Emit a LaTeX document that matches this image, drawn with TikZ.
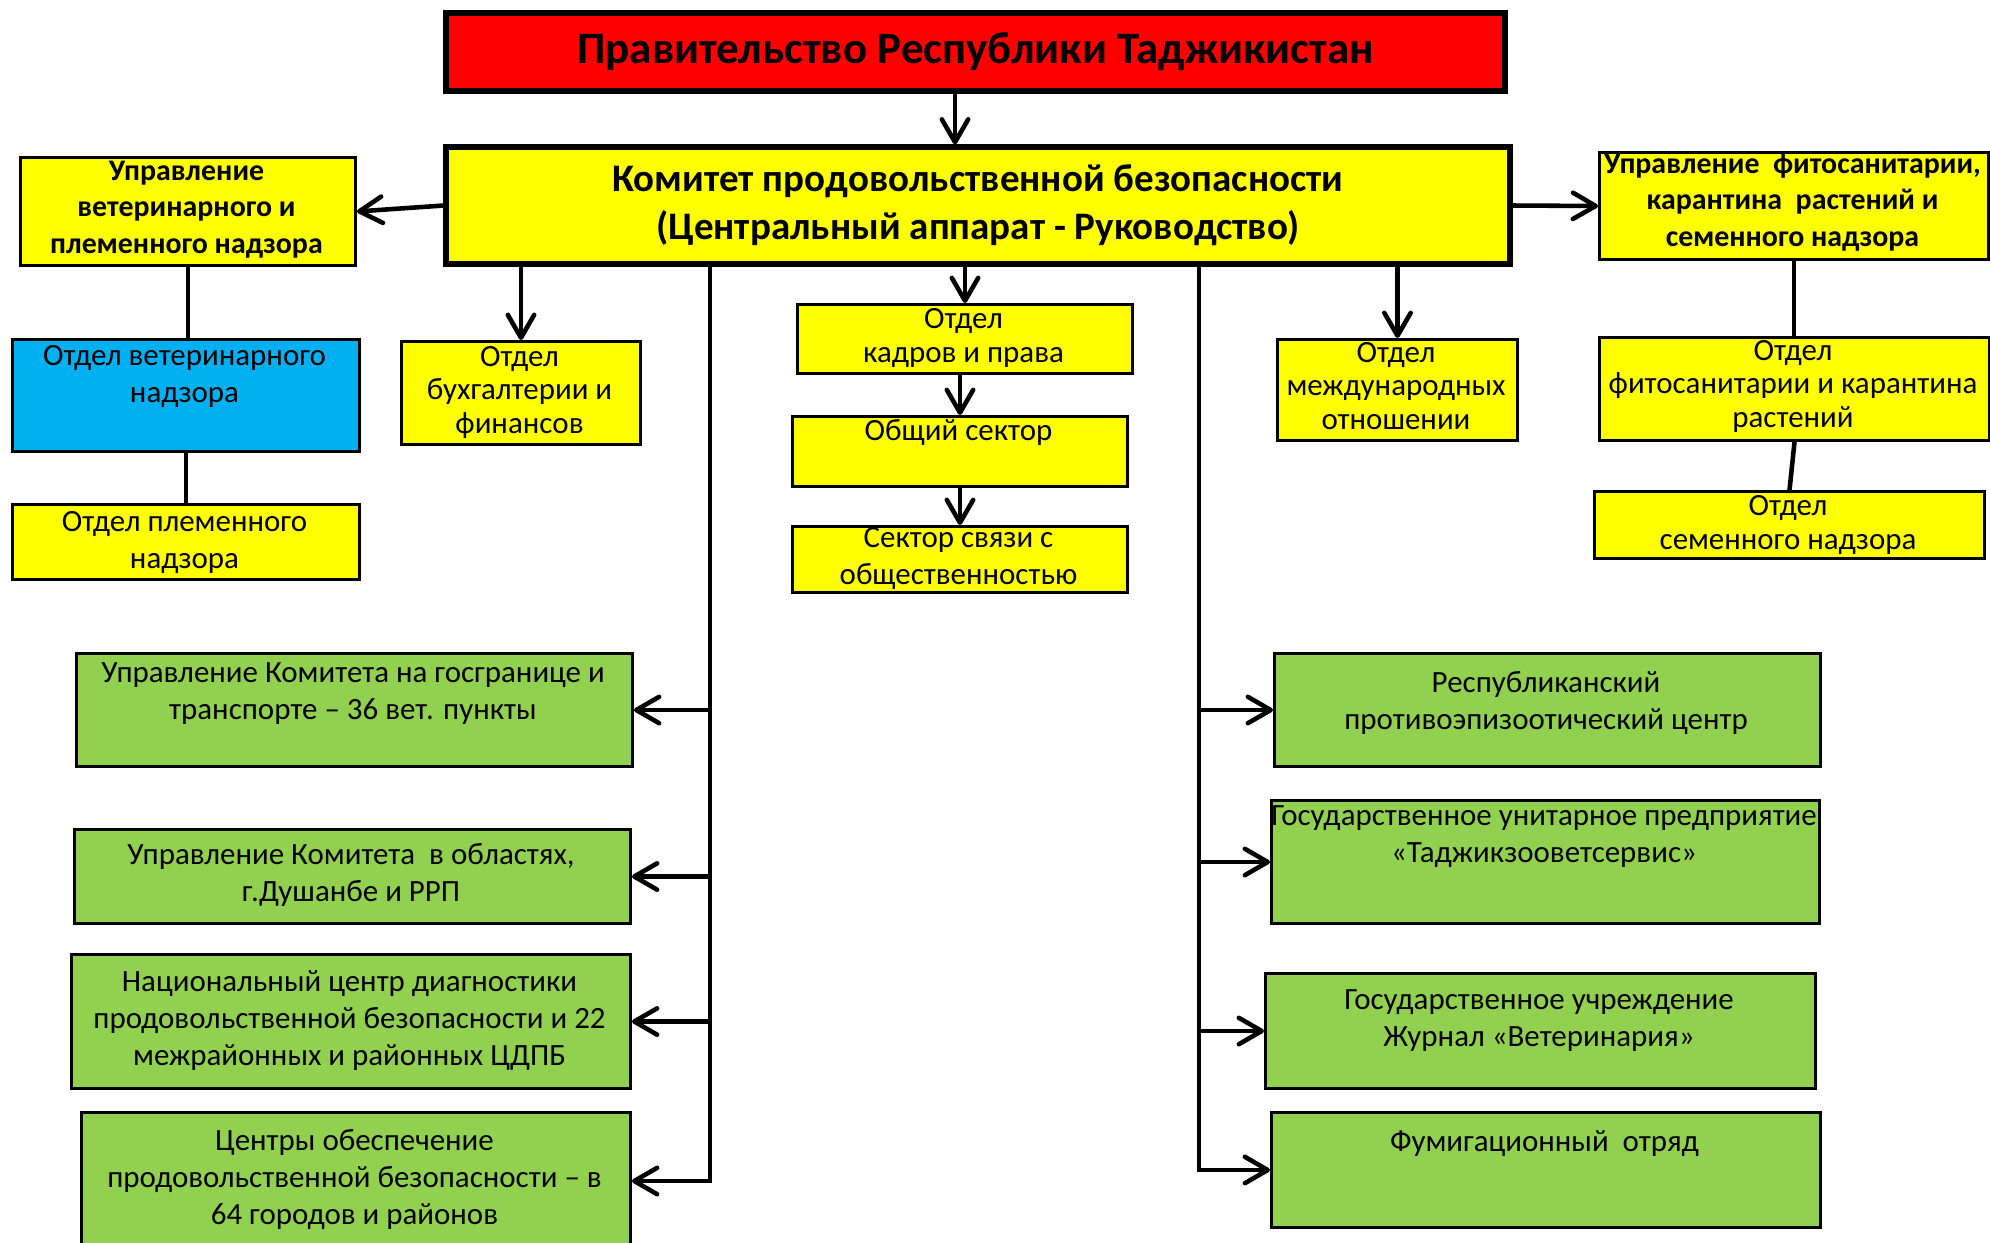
\documentclass[tikz,border=0pt]{standalone}
\usepackage{fontspec}
\setmainfont{Carlito}
\usetikzlibrary{arrows.meta}

\definecolor{govred}{HTML}{FF0000}
\definecolor{depyel}{HTML}{FFFF00}
\definecolor{vetblue}{HTML}{00B0F0}
\definecolor{subgreen}{HTML}{92D050}

\tikzset{
  box/.style={draw=black, line width=0.85pt, anchor=north west, inner sep=0pt},
  mainbox/.style={draw=black, line width=1.45pt, inner sep=0pt, align=center},
  txt/.style={font=\fontsize{8.8}{10.5}\selectfont, align=center, inner sep=0pt, anchor=base},
  tighttxt/.style={txt, font=\fontsize{8.8}{9.4}\selectfont},
  btxt/.style={txt, font=\fontsize{8.5}{10.3}\selectfont\bfseries},
  link/.style={line width=1.3pt},
  arr/.style={link, -{Straight Barb[length=6.5pt, width=7.5pt, round]}},
}

\begin{document}
\begin{tikzpicture}[x=0.1mm, y=-0.1mm]
    \useasboundingbox (0,0) rectangle (1990,1242);

    % top
    \node[mainbox, fill=govred, minimum width=105.9mm, minimum height=7.8mm,
      font=\fontsize{12.8}{14}\selectfont\bfseries] (gov) at (975.5,52)
      {Правительство Республики Таджикистан};
    \node[mainbox, fill=depyel, minimum width=106.4mm, minimum height=11.7mm,
      font=\fontsize{11.1}{13.7}\selectfont\bfseries] (kom) at (978,205.5)
      {Комитет продовольственной безопасности\\(Центральный аппарат - Руководство)};

    % left column (text nodes sit on their last baseline)
    \node[box, fill=depyel, minimum width=33.5mm, minimum height=10.8mm] (uvet) at (19,156) {};
    \node[btxt] (uvet-t) at (186.5,253) {Управление\\ветеринарного и\\племенного надзора};
    \node[box, fill=vetblue, minimum width=34.7mm, minimum height=11.2mm] (ovet) at (11,338) {};
    \node[txt] (ovet-t) at (184.5,402) {Отдел ветеринарного\\надзора};
    \node[box, fill=depyel, minimum width=34.7mm, minimum height=7.5mm] (oplem) at (11,503) {};
    \node[txt] (oplem-t) at (184.5,568) {Отдел племенного\\надзора};
    \node[box, fill=depyel, minimum width=23.9mm, minimum height=10.3mm] (obuh) at (400,340) {};
    \node[tighttxt] (obuh-t) at (519.5,433) {Отдел\\бухгалтерии и\\финансов};

    % middle column
    \node[box, fill=depyel, minimum width=33.5mm, minimum height=6.9mm] (okadr) at (796,303) {};
    \node[tighttxt] (okadr-t) at (963.5,362) {Отдел\\кадров и права};
    \node[box, fill=depyel, minimum width=33.5mm, minimum height=7mm] (obsh) at (791,415) {};
    \node[txt] (obsh-t) at (958.5,440) {Общий сектор};
    \node[box, fill=depyel, minimum width=33.5mm, minimum height=6.6mm] (osvyaz) at (791,525) {};
    \node[txt] (osvyaz-t) at (958.5,584) {Сектор связи с\\общественностью};

    % right column
    \node[box, fill=depyel, minimum width=24mm, minimum height=10.1mm] (omezh) at (1276,338) {};
    \node[tighttxt] (omezh-t) at (1396,429) {Отдел\\международных\\отношении};
    \node[box, fill=depyel, minimum width=38.9mm, minimum height=10.7mm] (ufito) at (1598,151) {};
    \node[btxt] (ufito-t) at (1792.5,246) {Управление\ \ фитосанитарии,\\карантина\ \ растений и\\семенного надзора};
    \node[box, fill=depyel, minimum width=39mm, minimum height=10.3mm] (ofito) at (1598,336) {};
    \node[tighttxt] (ofito-t) at (1793,427) {Отдел\\фитосанитарии и карантина\\растений};
    \node[box, fill=depyel, minimum width=39mm, minimum height=6.7mm] (osem) at (1593,490) {};
    \node[tighttxt] (osem-t) at (1788,549) {Отдел\\семенного надзора};

    % lower left
    \node[box, fill=subgreen, minimum width=55.6mm, minimum height=11.3mm] (g1) at (75,652) {};
    \node[txt] (g1-t) at (353,719) {Управление Комитета на госгранице и\\транспорте – 36 вет. пункты};
    \node[box, fill=subgreen, minimum width=55.6mm, minimum height=9.4mm] (g2) at (73,828) {};
    \node[txt] (g2-t) at (351,901) {Управление Комитета\ \ в областях,\\г.Душанбе и РРП};
    \node[box, fill=subgreen, minimum width=55.9mm, minimum height=13.4mm] (g3) at (70,953) {};
    \node[txt] (g3-t) at (349.5,1065) {Национальный центр диагностики\\продовольственной безопасности и 22\\межрайонных и районных ЦДПБ};
    \node[box, fill=subgreen, minimum width=54.9mm, minimum height=13.7mm] (g4) at (80,1111) {};
    \node[txt] (g4-t) at (354.5,1224) {Центры обеспечение\\продовольственной безопасности – в\\64 городов и районов};

    % lower right
    \node[box, fill=subgreen, minimum width=54.6mm, minimum height=11.3mm] (r1) at (1273,652) {};
    \node[txt] (r1-t) at (1546,729) {Республиканский\\противоэпизоотический центр};
    \node[box, fill=subgreen, minimum width=54.8mm, minimum height=12.3mm] (r2) at (1270,799) {};
    \node[txt] (r2-t) at (1544,862) {Государственное унитарное предприятие\\«Таджикзооветсервис»};
    \node[box, fill=subgreen, minimum width=55mm, minimum height=11.5mm] (r3) at (1264,972) {};
    \node[txt] (r3-t) at (1539,1046) {Государственное учреждение\\Журнал «Ветеринария»};
    \node[box, fill=subgreen, minimum width=54.9mm, minimum height=11.5mm] (r4) at (1270,1111) {};
    \node[txt] (r4-t) at (1544.5,1151) {Фумигационный\ \ отряд};

    \coordinate (c-gov) at (955,0);
    \coordinate (tl) at (710,0);
    \coordinate (tr) at (1199,0);

    % connectors
    \draw[arr] (gov.south -| c-gov) -- (kom.north -| c-gov);
    \draw[arr] (kom.west) -- (uvet.east);
    \draw[arr] (kom.east) -- (ufito.west);
    \draw[arr] (kom.south -| obuh.north) -- (obuh.north);
    \draw[arr] (kom.south -| okadr.north) -- (okadr.north);
    \draw[arr] (okadr.south -| obsh.north) -- (obsh.north);
    \draw[arr] (obsh.south -| osvyaz.north) -- (osvyaz.north);
    \draw[arr] (kom.south -| omezh.north) -- (omezh.north);
    \draw[link] (uvet.south) -- (uvet.south |- ovet.north);
    \draw[link] (ovet.south) -- (oplem.north);
    \draw[link] (ufito.south) -- (ufito.south |- ofito.north);
    \draw[link] (ofito.south) -- (osem.north);

    \draw[arr] (kom.south -| tl) |- (g4.east);
    \foreach \bx in {g1,g2,g3}
      \draw[arr] (\bx.east -| tl) -- (\bx.east);
    \draw[arr] (kom.south -| tr) |- (r4.west);
    \foreach \bx in {r1,r2,r3}
      \draw[arr] (\bx.west -| tr) -- (\bx.west);
\end{tikzpicture}
\end{document}
